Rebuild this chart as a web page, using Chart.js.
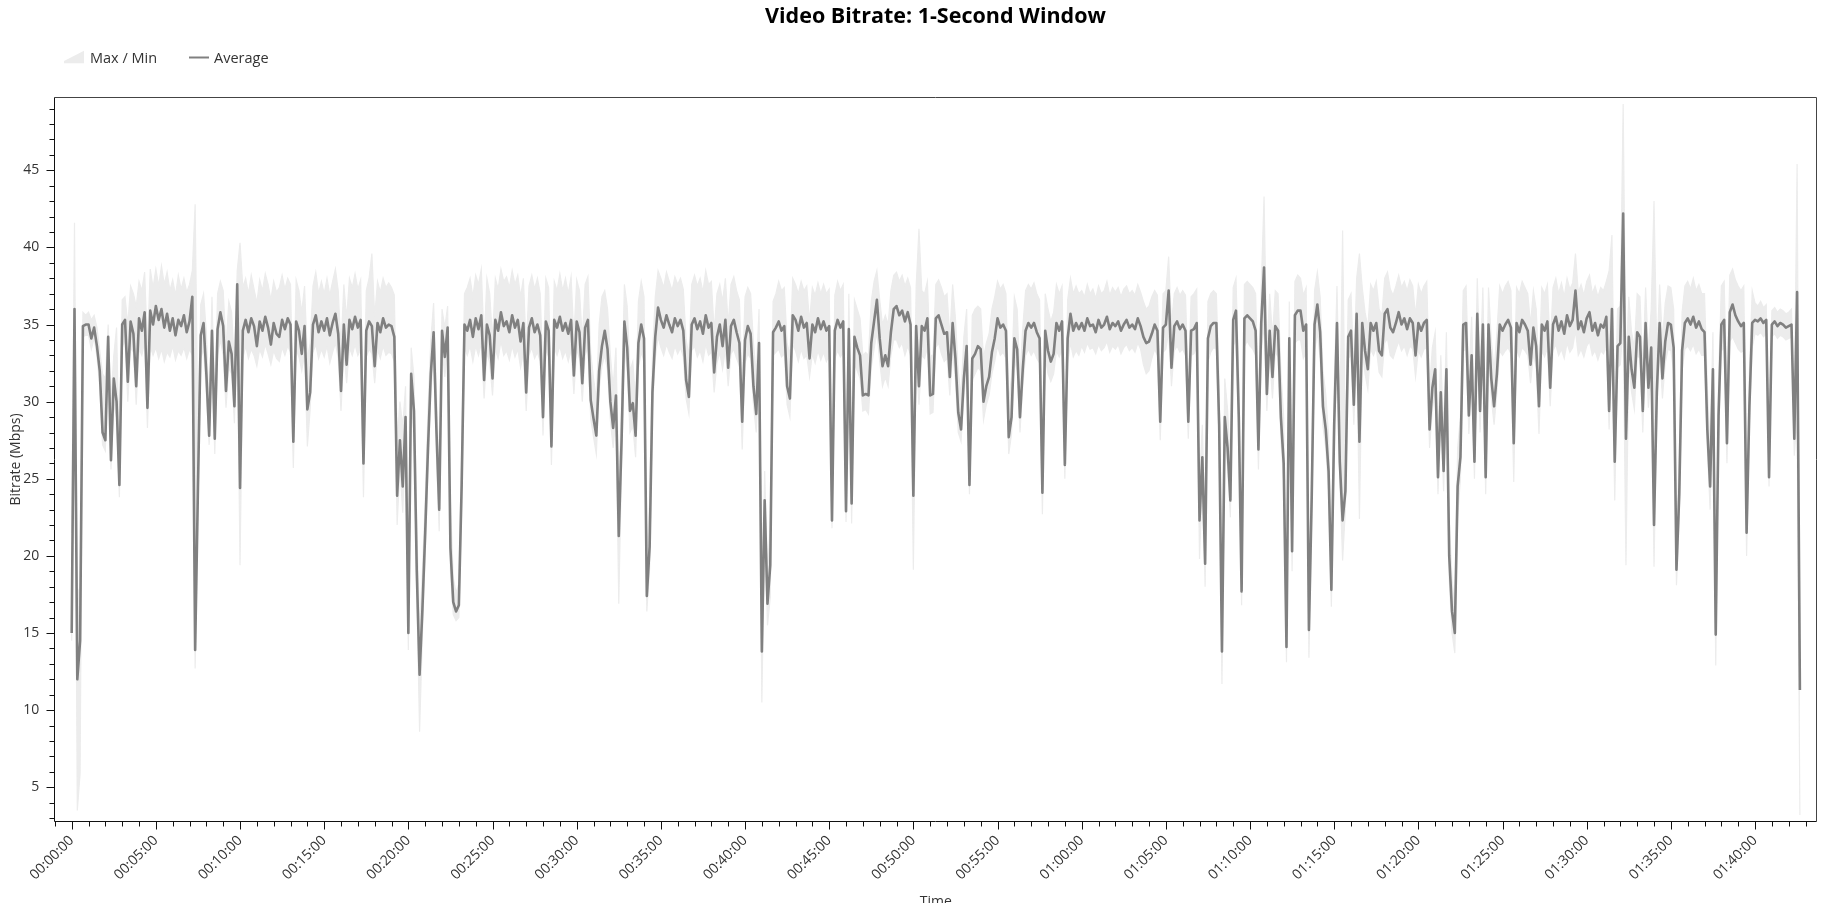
<!DOCTYPE html>
<html>
<head>
<meta charset="utf-8">
<title>Video Bitrate: 1-Second Window</title>
<script src="https://cdn.jsdelivr.net/npm/chart.js@4.4.1/dist/chart.umd.min.js"></script>
<style>
    html, body {
        margin: 0;
        padding: 0;
        background: #ffffff;
    }
    body {
        position: relative;
        width: 1835px;
        height: 903px;
        overflow: hidden;
        font-family: 'Open Sans', sans-serif;
        color: #333333;
    }
    .chart-wrap {
        position: absolute;
        left: 0;
        top: 0;
        width: 1835px;
        height: 903px;
    }
    .chart-title {
        position: absolute;
        left: 54px;
        width: 1763px;
        top: 3px;
        margin: 0;
        text-align: center;
        font-size: 21.5px;
        line-height: 24px;
        font-weight: 700;
        color: #000000;
    }
    .legend-item {
        position: absolute;
        top: 47.5px;
        font-size: 14.5px;
        line-height: 20px;
        white-space: nowrap;
        color: #333333;
    }
    .legend-swatch {
        position: absolute;
    }
</style>
</head>
<body>
<div class="chart-wrap"><canvas id="bitrateChart"></canvas></div>
<h1 class="chart-title">Video Bitrate: 1-Second Window</h1>
<div id="legend"></div>

<script>
// one sample every 10 s, values in Mbps (one row per minute)
const sampleStep = 10;

const avgMbps = [
    15.0, 36.0, 12.0, 14.5, 34.9, 35.0,
    35.0, 34.1, 34.8, 33.6, 32.0, 28.0,
    27.5, 34.2, 26.2, 31.5, 30.0, 24.6,
    35.0, 35.3, 31.3, 35.2, 34.4, 31.0,
    35.4, 34.6, 35.8, 29.6, 35.9, 35.0,
    36.2, 35.3, 36.0, 34.8, 35.7, 34.6,
    35.4, 34.3, 35.3, 34.9, 35.6, 34.5,
    35.2, 36.8, 13.9, 24.4, 34.3, 35.1,
    31.8, 27.8, 34.6, 27.6, 34.7, 35.8,
    34.9, 30.7, 33.9, 33.1, 29.7, 37.6,
    24.4, 34.6, 35.3, 34.5, 35.4, 34.9,
    33.6, 35.2, 34.6, 35.5, 34.8, 33.7,
    35.1, 34.4, 34.2, 35.3, 34.7, 35.4,
    35.0, 27.4, 35.2, 34.6, 33.1, 34.9,
    29.5, 30.6, 35.0, 35.6, 34.5, 35.2,
    34.6, 35.4, 34.3, 35.1, 35.7, 34.4,
    30.7, 35.0, 32.4, 35.3, 34.7, 35.5,
    34.8, 35.3, 26.0, 34.6, 35.2, 34.9,
    32.3, 35.1, 34.5, 35.4, 34.8, 35.0,
    34.9, 34.2, 23.9, 27.5, 24.5, 29.0,
    15.0, 31.8, 29.4, 19.0, 12.3, 16.5,
    21.5, 27.0, 31.8, 34.5, 28.2, 23.0,
    34.6, 32.9, 34.8, 20.5, 17.0, 16.4,
    16.8, 24.6, 35.0, 34.6, 35.3, 34.2,
    35.4, 34.7, 35.6, 31.4, 35.0, 34.3,
    31.5, 35.3, 34.6, 35.8, 34.9, 35.2,
    34.5, 35.6, 34.8, 35.3, 33.9, 35.1,
    30.6, 34.8, 35.4, 34.5, 35.0, 34.3,
    29.0, 35.2, 34.6, 27.1, 35.3, 34.8,
    35.5, 34.6, 35.1, 34.4, 35.3, 31.7,
    35.2, 34.5, 31.2, 34.8, 35.3, 30.1,
    28.9, 27.8, 32.0, 33.6, 34.6, 33.4,
    30.0, 28.3, 30.4, 21.3, 27.5, 35.2,
    33.5, 29.4, 29.9, 27.8, 33.8, 35.0,
    34.1, 17.4, 20.6, 30.6, 34.2, 36.1,
    35.3, 34.8, 35.6, 35.0, 34.5, 35.4,
    34.9, 35.3, 34.6, 31.4, 30.3, 35.0,
    35.4, 34.7, 35.2, 34.4, 35.6, 34.8,
    35.1, 31.9, 34.2, 35.0, 33.6, 35.3,
    32.2, 34.9, 35.3, 34.5, 33.8, 28.7,
    34.0, 34.9, 34.4, 31.0, 29.2, 33.8,
    13.8, 23.6, 16.9, 19.4, 34.5, 34.8,
    35.2, 34.6, 34.9, 31.0, 30.2, 35.6,
    35.3, 34.6, 35.5, 34.8, 35.1, 32.8,
    35.0, 34.5, 35.4, 34.7, 35.2, 34.6,
    34.9, 22.3, 34.6, 35.3, 34.8, 35.2,
    22.9, 34.7, 23.4, 34.2, 33.5, 33.0,
    30.4, 30.5, 30.4, 33.8, 35.2, 36.6,
    34.1, 32.3, 33.0, 32.3, 34.5, 36.0,
    36.2, 35.6, 35.9, 35.2, 35.8, 35.0,
    23.9, 34.9, 31.0, 34.9, 34.6, 35.4,
    30.4, 30.5, 35.4, 35.6, 35.0, 34.4,
    34.5, 31.6, 35.1, 32.8, 29.3, 28.2,
    31.5, 33.6, 24.6, 32.8, 33.1, 33.6,
    33.4, 30.0, 31.0, 31.6, 33.2, 34.1,
    35.4, 34.8, 35.0, 34.6, 27.7, 29.0,
    34.1, 33.4, 29.0, 32.1, 34.6, 35.1,
    34.8, 35.1, 34.5, 34.1, 24.1, 34.6,
    33.3, 32.6, 33.1, 35.1, 34.6, 35.2,
    25.9, 34.1, 35.7, 34.6, 35.1, 34.7,
    35.1, 34.6, 35.4, 34.9, 35.0, 34.5,
    35.3, 34.8, 35.0, 35.5, 34.7, 35.1,
    34.9, 35.2, 34.6, 35.0, 35.3, 34.8,
    35.0, 34.7, 35.4, 34.9, 34.2, 33.8,
    33.9, 34.4, 35.0, 34.6, 28.7, 34.8,
    35.0, 37.2, 32.2, 34.9, 35.2, 34.7,
    35.0, 34.6, 28.7, 34.6, 34.7, 35.1,
    22.3, 26.4, 19.5, 34.1, 34.9, 35.1,
    35.1, 28.5, 13.8, 29.0, 27.0, 23.6,
    35.3, 35.9, 29.0, 17.7, 35.4, 35.6,
    35.4, 35.2, 34.6, 26.9, 35.1, 38.7,
    30.5, 34.6, 31.6, 34.9, 34.6, 29.0,
    26.0, 14.1, 34.1, 20.3, 35.6, 35.9,
    35.9, 34.6, 35.0, 15.2, 23.9, 35.0,
    36.3, 34.5, 29.7, 28.2, 25.5, 17.8,
    28.5, 35.1, 26.1, 22.3, 24.2, 34.2,
    34.6, 29.8, 35.7, 27.4, 35.1, 33.3,
    32.1, 35.1, 34.6, 35.1, 33.3, 33.0,
    35.7, 36.0, 34.8, 34.5, 35.1, 35.8,
    35.0, 35.4, 34.7, 35.4, 35.1, 33.0,
    35.1, 34.6, 35.1, 35.3, 28.2, 30.9,
    32.1, 25.1, 30.6, 25.5, 32.1, 20.0,
    16.4, 15.0, 24.5, 26.4, 35.0, 35.1,
    29.1, 33.0, 26.1, 35.7, 29.4, 35.0,
    25.1, 35.0, 31.5, 29.7, 31.8, 35.0,
    34.6, 35.0, 35.3, 34.8, 27.3, 35.1,
    34.5, 35.3, 35.0, 34.6, 32.4, 34.8,
    33.6, 29.7, 35.0, 34.6, 35.2, 30.9,
    35.0, 35.5, 34.6, 35.2, 34.4, 35.6,
    34.9, 35.3, 37.2, 34.7, 35.2, 34.5,
    35.4, 35.8, 34.6, 35.1, 34.3, 35.0,
    34.8, 35.5, 29.4, 36.0, 26.1, 33.6,
    33.8, 42.2, 27.6, 34.2, 32.1, 30.9,
    34.5, 34.2, 29.4, 35.1, 30.9, 33.5,
    22.0, 30.6, 35.1, 31.5, 33.9, 35.1,
    35.0, 33.5, 19.1, 24.0, 33.3, 35.1,
    35.4, 35.0, 35.5, 34.8, 35.2, 34.7,
    34.5, 28.2, 24.5, 32.1, 14.9, 29.1,
    35.0, 35.3, 27.3, 35.8, 36.3, 35.6,
    35.2, 34.9, 35.1, 21.5, 29.7, 35.1,
    35.3, 35.2, 35.4, 35.1, 35.3, 25.1,
    35.0, 35.2, 34.9, 35.1, 35.0, 34.8,
    34.9, 35.0, 27.6, 37.1, 11.3
];

const maxMbps = [
    21.5, 41.6, 17.5, 18.0, 35.8, 35.6,
    35.8, 35.3, 35.6, 34.8, 33.3, 31.8,
    31.5, 35.0, 30.0, 33.0, 34.8, 26.0,
    36.6, 36.8, 35.0, 37.5, 37.0, 36.2,
    37.8, 37.2, 38.4, 33.5, 38.6, 37.4,
    38.6, 37.5, 38.8, 37.6, 38.4, 37.2,
    37.9, 36.9, 38.2, 37.3, 38.0, 37.1,
    37.6, 38.5, 42.8, 28.0, 36.3, 37.0,
    34.5, 29.5, 36.8, 30.0, 37.0, 37.8,
    37.2, 33.5, 36.5, 35.8, 32.5, 38.5,
    40.3, 37.4, 38.0, 37.0, 38.2, 37.3,
    36.4, 37.9, 37.2, 38.3, 37.6, 36.6,
    37.8, 37.1, 37.4, 38.2, 37.3, 38.0,
    37.6, 29.0, 37.9, 37.2, 35.8, 37.5,
    32.8, 33.8, 37.5, 38.4, 37.0, 37.8,
    37.0, 38.0, 36.9, 37.8, 38.6, 37.2,
    33.5, 37.6, 35.4, 38.0, 37.4, 38.3,
    37.3, 37.9, 28.2, 37.2, 38.0, 39.6,
    35.5, 37.8, 37.1, 38.0, 37.4, 37.7,
    37.4, 36.9, 27.5, 30.0, 28.4, 31.0,
    17.0, 33.5, 31.6, 22.0, 15.2, 19.0,
    23.5, 29.5, 34.0, 36.4, 30.6, 25.0,
    36.0, 34.8, 36.2, 23.5, 18.6, 17.6,
    18.2, 27.0, 37.0, 37.4, 38.0, 36.8,
    38.2, 37.6, 38.6, 33.8, 38.0, 37.0,
    34.0, 38.0, 37.3, 38.6, 37.8, 38.1,
    37.4, 38.5, 37.6, 38.2, 36.8, 38.0,
    33.4, 37.5, 38.2, 37.3, 38.0, 37.0,
    31.8, 38.0, 37.4, 29.4, 37.8, 37.2,
    38.3, 37.2, 38.0, 37.0, 38.1, 34.2,
    37.9, 37.2, 34.0, 37.6, 38.1, 33.2,
    31.5, 30.2, 35.0, 36.8, 37.2, 36.0,
    33.0, 31.0, 33.5, 24.5, 30.0, 37.6,
    36.2, 32.0, 32.6, 30.0, 36.5, 37.8,
    36.8, 20.0, 23.5, 33.0, 36.8, 38.5,
    38.0, 37.4, 38.4, 37.8, 37.2, 38.1,
    37.6, 38.0, 37.3, 34.0, 33.0, 37.6,
    38.2, 37.5, 38.0, 37.1, 38.5, 37.6,
    37.8, 34.6, 37.0, 37.6, 36.5, 38.0,
    35.0, 37.6, 38.1, 37.2, 36.6, 31.2,
    36.8, 37.4, 37.0, 33.8, 31.8, 36.0,
    15.5, 25.5, 19.0, 22.0, 36.5, 37.0,
    37.8, 37.2, 37.4, 33.8, 33.0, 38.0,
    37.6, 37.0, 37.8, 37.2, 37.5, 35.2,
    37.4, 36.9, 37.7, 37.0, 37.6, 37.0,
    37.3, 24.5, 36.9, 37.8, 37.2, 37.6,
    25.0, 37.0, 25.6, 36.6, 36.0, 35.4,
    33.0, 33.2, 33.0, 36.5, 37.8, 38.5,
    36.6, 35.0, 35.6, 35.0, 37.2, 38.2,
    38.4, 37.8, 38.2, 37.5, 38.0, 37.4,
    26.0, 37.5, 41.2, 37.2, 37.0, 37.8,
    33.0, 33.0, 37.6, 37.9, 37.4, 36.8,
    37.0, 34.2, 37.6, 35.4, 32.0, 30.4,
    34.2, 36.0, 26.0, 35.6, 36.0, 36.2,
    36.0, 32.8, 33.8, 34.4, 36.0, 36.8,
    37.8, 37.3, 37.6, 37.0, 30.0, 31.6,
    36.8, 36.0, 31.6, 34.8, 37.2, 37.6,
    37.3, 37.7, 37.0, 36.6, 26.5, 37.0,
    36.0, 35.2, 35.8, 37.6, 37.0, 37.5,
    28.0, 36.6, 38.0, 37.0, 37.5, 37.0,
    37.2, 36.8, 37.6, 37.0, 37.3, 36.7,
    37.5, 37.0, 37.2, 37.8, 36.9, 37.4,
    37.1, 37.4, 36.8, 37.3, 37.5, 37.0,
    37.2, 36.9, 37.6, 37.1, 36.5, 36.0,
    36.2, 36.8, 37.2, 36.9, 31.2, 37.0,
    37.2, 39.4, 35.0, 37.0, 37.4, 36.9,
    37.2, 36.9, 31.0, 36.8, 37.0, 37.3,
    24.8, 28.5, 21.5, 36.5, 37.0, 37.2,
    37.0, 31.0, 16.5, 31.5, 29.5, 26.0,
    37.4, 38.0, 31.5, 20.0, 37.6, 37.8,
    37.6, 37.4, 37.0, 29.5, 37.4, 43.3,
    33.0, 37.0, 34.2, 37.2, 37.0, 32.0,
    29.0, 16.0, 36.5, 23.0, 37.8, 38.2,
    38.0, 36.9, 37.4, 18.0, 26.0, 37.2,
    38.4, 36.8, 32.0, 30.5, 27.8, 20.0,
    31.0, 37.5, 28.5, 41.1, 27.0, 36.6,
    37.0, 32.0, 38.0, 39.6, 37.4, 35.8,
    34.8, 37.6, 37.2, 37.8, 36.0, 35.6,
    38.0, 38.4, 37.3, 36.9, 37.5, 38.2,
    37.4, 37.8, 37.2, 37.9, 37.5, 35.6,
    37.6, 37.0, 37.5, 37.8, 31.0, 33.5,
    34.5, 28.0, 33.0, 28.0, 34.5, 22.5,
    18.5, 16.5, 27.0, 29.0, 37.2, 37.5,
    31.5, 35.5, 28.5, 38.0, 32.0, 37.4,
    27.5, 37.4, 34.0, 32.0, 34.5, 37.5,
    37.0, 37.5, 37.8, 37.2, 29.5, 37.4,
    37.0, 37.8, 37.4, 37.0, 35.0, 37.2,
    36.0, 32.0, 37.4, 37.0, 37.6, 33.5,
    37.4, 38.0, 37.0, 37.7, 36.8, 38.0,
    37.3, 37.7, 39.6, 37.1, 37.6, 36.9,
    37.8, 38.2, 37.0, 37.5, 36.8, 37.4,
    37.2, 37.8, 38.5, 40.8, 28.5, 36.0,
    36.2, 49.3, 32.0, 36.8, 34.5, 33.5,
    37.0, 36.8, 32.0, 37.4, 33.2, 36.0,
    43.0, 33.0, 37.6, 34.0, 36.4, 37.5,
    37.4, 36.0, 21.0, 26.5, 35.8, 37.5,
    37.8, 37.3, 38.0, 37.2, 37.6, 37.0,
    37.0, 31.0, 27.0, 34.5, 17.0, 31.5,
    37.5, 37.8, 30.0, 38.2, 38.6, 37.9,
    37.5, 37.2, 37.5, 24.0, 32.0, 37.2,
    36.4, 36.2, 36.5, 36.1, 36.3, 27.0,
    35.9, 36.1, 35.8, 36.0, 35.9, 35.7,
    35.8, 36.0, 29.5, 45.4, 13.5
];

const minMbps = [
    14.5, 34.6, 3.5, 5.9, 34.2, 34.3,
    34.3, 33.4, 34.1, 32.9, 31.0, 27.2,
    26.8, 33.0, 25.6, 29.8, 29.0, 23.8,
    33.5, 34.0, 30.0, 33.5, 33.2, 29.8,
    33.4, 33.0, 33.9, 28.3, 33.6, 33.0,
    33.5, 32.8, 33.4, 32.6, 33.2, 32.9,
    33.6, 32.7, 33.3, 33.0, 33.5, 32.8,
    33.4, 33.0, 12.7, 23.0, 32.8, 33.4,
    30.5, 27.2, 33.0, 26.6, 33.0, 34.0,
    33.0, 29.6, 32.2, 31.8, 28.6, 35.0,
    19.4, 32.8, 33.6, 32.8, 33.4, 33.0,
    32.3, 33.4, 32.9, 33.7, 33.1, 32.4,
    33.3, 32.8, 32.6, 33.5, 33.0, 33.6,
    33.2, 25.7, 33.4, 32.9, 32.0, 33.1,
    27.1, 29.5, 33.2, 33.7, 32.8, 33.4,
    32.9, 33.6, 32.5, 33.2, 33.8, 32.8,
    29.4, 33.3, 31.2, 33.5, 33.0, 33.7,
    33.0, 33.4, 23.8, 32.9, 33.4, 33.1,
    31.2, 33.4, 32.8, 33.6, 33.0, 33.2,
    33.1, 32.6, 22.0, 25.8, 22.8, 27.5,
    13.9, 30.4, 27.8, 17.6, 8.6, 14.8,
    20.0, 25.5, 30.4, 33.4, 26.5, 21.6,
    33.5, 31.6, 33.6, 19.0, 16.2, 15.8,
    16.0, 23.0, 33.5, 33.0, 33.6, 32.6,
    33.6, 33.0, 33.8, 30.2, 33.2, 32.5,
    30.4, 33.4, 32.8, 33.9, 33.0, 33.3,
    32.7, 33.6, 32.9, 33.4, 32.2, 33.2,
    29.4, 33.0, 33.5, 32.8, 33.2, 32.6,
    27.8, 33.4, 32.9, 25.9, 33.5, 33.0,
    33.6, 32.8, 33.3, 32.6, 33.4, 30.5,
    33.4, 32.8, 30.0, 33.0, 33.5, 28.9,
    27.7, 26.6, 30.8, 32.3, 33.0, 32.0,
    28.8, 27.0, 29.2, 16.9, 26.0, 33.6,
    32.0, 28.0, 28.4, 26.4, 32.2, 33.2,
    32.6, 16.4, 19.2, 29.4, 32.8, 34.2,
    33.5, 33.0, 33.7, 33.2, 32.8, 33.6,
    33.1, 33.5, 32.9, 30.2, 29.2, 33.3,
    33.6, 32.9, 33.3, 32.6, 33.7, 33.0,
    33.2, 30.6, 32.5, 33.2, 32.1, 33.4,
    31.0, 33.1, 33.4, 32.8, 32.3, 26.9,
    32.5, 33.1, 32.8, 29.8, 28.0, 32.0,
    10.5, 22.0, 15.5, 17.3, 33.0, 33.2,
    33.4, 32.9, 33.1, 29.8, 29.0, 33.7,
    33.3, 32.6, 33.4, 32.8, 33.0, 31.6,
    33.1, 32.5, 33.3, 32.7, 33.2, 32.6,
    33.0, 21.8, 32.8, 33.3, 32.9, 33.2,
    22.2, 32.8, 22.1, 32.4, 32.0, 31.5,
    29.4, 29.5, 29.2, 32.2, 33.4, 34.5,
    32.6, 31.0, 31.6, 31.0, 33.0, 34.0,
    34.0, 33.5, 33.8, 33.0, 33.6, 33.0,
    19.1, 33.0, 29.8, 33.0, 32.8, 33.5,
    29.2, 29.3, 33.5, 33.8, 33.1, 32.6,
    32.8, 30.4, 33.2, 31.4, 28.0, 27.4,
    30.3, 32.2, 24.0, 31.4, 31.8, 32.2,
    32.0, 28.8, 29.8, 30.4, 31.8, 32.6,
    33.6, 33.0, 33.2, 32.8, 26.6, 27.9,
    32.7, 32.0, 28.0, 31.0, 33.0, 33.4,
    33.0, 33.3, 32.8, 32.5, 22.7, 32.9,
    31.8, 31.3, 31.8, 33.3, 32.9, 33.4,
    25.0, 32.5, 33.8, 32.9, 33.3, 33.0,
    33.6, 33.2, 33.8, 33.4, 33.5, 33.1,
    33.7, 33.3, 33.5, 33.9, 33.2, 33.6,
    33.4, 33.7, 33.1, 33.5, 33.7, 33.3,
    33.5, 33.2, 33.8, 33.4, 32.4, 31.8,
    32.0, 32.8, 33.4, 33.0, 27.5, 33.2,
    33.4, 34.5, 31.0, 33.3, 33.6, 33.2,
    33.4, 33.0, 27.6, 33.0, 33.1, 33.5,
    19.8, 25.0, 18.0, 32.6, 33.2, 33.5,
    33.4, 27.0, 11.7, 27.6, 25.8, 22.5,
    33.6, 34.0, 27.8, 16.8, 33.6, 33.9,
    33.6, 33.4, 33.0, 25.6, 33.2, 35.0,
    29.4, 32.9, 30.2, 33.2, 32.9, 27.6,
    24.8, 13.1, 32.6, 19.0, 33.8, 34.0,
    34.0, 32.8, 33.2, 13.4, 22.5, 33.2,
    34.5, 32.8, 28.4, 27.0, 24.2, 16.7,
    27.0, 33.5, 25.0, 19.7, 23.0, 32.8,
    33.0, 28.5, 33.8, 22.4, 33.3, 31.8,
    30.8, 33.4, 33.0, 33.5, 31.9, 31.6,
    33.8, 34.1, 33.0, 32.8, 33.4, 33.9,
    33.3, 33.6, 33.0, 33.6, 33.4, 31.6,
    33.3, 32.9, 33.4, 33.5, 27.0, 29.5,
    30.8, 24.0, 29.4, 24.2, 30.8, 18.5,
    15.0, 13.7, 22.5, 25.0, 33.3, 33.4,
    27.9, 31.5, 25.0, 33.8, 28.0, 33.3,
    24.0, 33.3, 30.2, 28.5, 30.6, 33.3,
    33.0, 33.3, 33.5, 33.1, 24.8, 33.4,
    32.9, 33.5, 33.3, 33.0, 31.2, 33.1,
    32.2, 27.9, 33.3, 32.9, 33.5, 29.7,
    33.3, 33.7, 33.0, 33.4, 32.8, 33.8,
    33.2, 33.5, 34.6, 33.0, 33.4, 32.9,
    33.6, 33.9, 33.0, 33.3, 32.7, 33.3,
    33.1, 33.6, 28.2, 34.0, 23.6, 32.2,
    32.4, 35.0, 19.4, 32.6, 30.6, 29.5,
    33.0, 32.8, 28.0, 33.4, 29.6, 32.0,
    19.3, 29.4, 33.4, 30.2, 32.5, 33.4,
    33.3, 32.0, 18.1, 22.5, 32.0, 33.4,
    33.6, 33.3, 33.7, 33.1, 33.4, 33.0,
    33.0, 27.0, 23.0, 30.8, 12.9, 27.8,
    33.3, 33.5, 26.0, 33.9, 34.2, 33.8,
    33.4, 33.2, 33.3, 20.0, 28.5, 33.5,
    34.4, 34.3, 34.5, 34.2, 34.4, 24.5,
    34.2, 34.4, 34.1, 34.3, 34.2, 34.0,
    34.1, 34.2, 26.5, 29.0, 3.2
];

const timeTickSeconds = [0, 300, 600, 900, 1200, 1500, 1800, 2100, 2400, 2700, 3000,
    3300, 3600, 3900, 4200, 4500, 4800, 5100, 5400, 5700, 6000];
const timeTickLabels = ['00:00:00', '00:05:00', '00:10:00', '00:15:00', '00:20:00', '00:25:00',
    '00:30:00', '00:35:00', '00:40:00', '00:45:00', '00:50:00', '00:55:00', '01:00:00',
    '01:05:00', '01:10:00', '01:15:00', '01:20:00', '01:25:00', '01:30:00', '01:35:00', '01:40:00'];
const bitrateTicks = [5, 10, 15, 20, 25, 30, 35, 40, 45];

const seriesNames = ['Average', 'Max / Min'];
const avgColor = '#808080';
const bandColor = '#ececec';

const sampleSeconds = avgMbps.map((_, i) => i * sampleStep);
const toPoints = values => values.map((v, i) => ({ x: sampleSeconds[i], y: v }));

// minor ticks every minute / every 1 Mbps, major ones where the labels are
const axisFrame = {
    id: 'axisFrame',
    afterDraw(chart) {
        const { ctx, chartArea: area, scales: { x, y } } = chart;
        const left = Math.round(area.left) + 0.5;
        const bottom = Math.round(area.bottom) - 0.5;
        const top = Math.round(area.top) + 0.5;
        const right = Math.round(area.right) - 0.5;

        ctx.save();
        ctx.lineWidth = 1;
        ctx.strokeStyle = '#444444';
        ctx.beginPath();
        ctx.moveTo(left, top);
        ctx.lineTo(right, top);
        ctx.lineTo(right, bottom);
        ctx.stroke();

        ctx.strokeStyle = '#111111';
        ctx.beginPath();
        ctx.moveTo(left, top);
        ctx.lineTo(left, bottom);
        ctx.lineTo(right, bottom);

        for (let t = Math.ceil(x.min / 60) * 60; t <= x.max; t += 60) {
            const px = Math.round(x.getPixelForValue(t)) + 0.5;
            const len = timeTickSeconds.includes(t) ? 8 : 5;
            ctx.moveTo(px, bottom);
            ctx.lineTo(px, bottom + len);
        }
        for (let v = Math.ceil(y.min); v <= y.max; v++) {
            const py = Math.round(y.getPixelForValue(v)) + 0.5;
            const len = bitrateTicks.includes(v) ? 8 : 5;
            ctx.moveTo(left, py);
            ctx.lineTo(left - len, py);
        }
        ctx.stroke();
        ctx.restore();
    }
};

Chart.defaults.font.family = "'Open Sans', sans-serif";
Chart.defaults.font.size = 14;
Chart.defaults.color = '#333333';

const ctx = document.getElementById('bitrateChart').getContext('2d');
const chart = new Chart(ctx, {
    type: 'line',
    data: {
        datasets: [
            {
                label: seriesNames[0],
                data: toPoints(avgMbps),
                borderColor: avgColor,
                borderWidth: 2.6,
                borderJoinStyle: 'round',
                pointRadius: 0,
                fill: false
            },
            {
                label: seriesNames[1],
                data: toPoints(maxMbps),
                borderColor: bandColor,
                backgroundColor: bandColor,
                borderWidth: 1.2,
                pointRadius: 0,
                fill: '+1'
            },
            {
                label: 'Min',
                data: toPoints(minMbps),
                borderColor: bandColor,
                borderWidth: 1.2,
                pointRadius: 0,
                fill: false
            }
        ]
    },
    options: {
        responsive: true,
        maintainAspectRatio: false,
        animation: false,
        events: [],
        layout: {
            padding: { top: 96.7, right: 17.7, bottom: 0, left: 0 }
        },
        plugins: {
            legend: { display: false },
            tooltip: { enabled: false }
        },
        scales: {
            x: {
                type: 'linear',
                min: -62,
                max: 6222,
                afterBuildTicks: scale => {
                    scale.ticks = timeTickSeconds.map(value => ({ value }));
                },
                afterFit: scale => { scale.height = 80.7; },
                ticks: {
                    autoSkip: false,
                    minRotation: 45,
                    maxRotation: 45,
                    padding: 2,
                    color: '#333333',
                    callback: value => timeTickLabels[timeTickSeconds.indexOf(value)]
                },
                grid: { display: false, drawTicks: true, tickLength: 8 },
                border: { display: false },
                title: {
                    display: true,
                    text: 'Time',
                    color: '#333333',
                    padding: { top: 0, bottom: -7 }
                }
            },
            y: {
                type: 'linear',
                min: 2.73,
                max: 49.77,
                afterBuildTicks: scale => {
                    scale.ticks = bitrateTicks.map(value => ({ value }));
                },
                afterFit: scale => { scale.width = 54.3; },
                ticks: {
                    autoSkip: false,
                    padding: 7,
                    color: '#333333'
                },
                grid: { display: false, drawTicks: true, tickLength: 8 },
                border: { display: false },
                title: {
                    display: true,
                    text: 'Bitrate (Mbps)',
                    color: '#333333',
                    padding: { top: 8, bottom: 0 }
                }
            }
        }
    },
    plugins: [axisFrame]
});

// html legend, built from the datasets
function buildLegend() {
    const box = document.getElementById('legend');
    const band = chart.data.datasets[1];
    const avg = chart.data.datasets[0];
    box.innerHTML = `
        <svg class="legend-swatch" style="left:64px;top:50px" width="20" height="14">
            <polygon points="0,11 20,0.7 20,13.3 0,13.3" fill="${band.backgroundColor}" />
        </svg>
        <span class="legend-item" style="left:90px">${band.label}</span>
        <svg class="legend-swatch" style="left:189px;top:50px" width="20" height="14">
            <line x1="0" y1="7.5" x2="20" y2="7.5" stroke="${avg.borderColor}" stroke-width="2" />
        </svg>
        <span class="legend-item" style="left:214px">${avg.label}</span>
    `;
}
buildLegend();
</script>
</body>
</html>
